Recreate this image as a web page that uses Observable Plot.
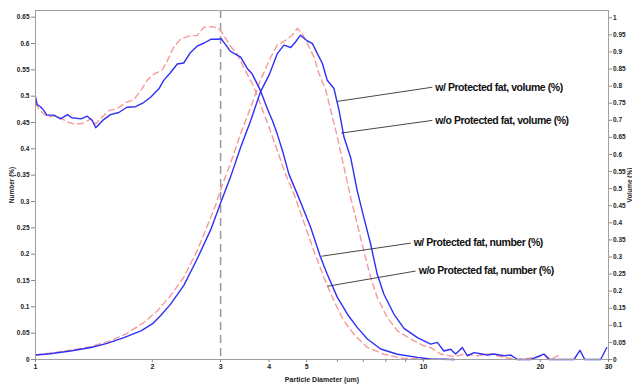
<!DOCTYPE html>
<html><head><meta charset="utf-8">
<script src="https://cdn.jsdelivr.net/npm/d3@7"></script>
<script src="https://cdn.jsdelivr.net/npm/@observablehq/plot@0.6"></script>
<style>
html,body{margin:0;padding:0;background:#fff;}
#chart svg{display:block;}
.anno text{letter-spacing:-0.45px;}
.xax text{letter-spacing:-0.1px;}
</style></head><body><div id="chart"></div>
<script>
// ---- data ----
const xTicks = [1,2,3,4,5,6,7,8,9,10,20,30];
const leftTicks = [0,0.05,0.1,0.15,0.2,0.25,0.3,0.35,0.4,0.45,0.5,0.55,0.6,0.65];
const rightTicks = [0,0.05,0.1,0.15,0.2,0.25,0.3,0.35,0.4,0.45,0.5,0.55,0.6,0.65,0.7,0.75,0.8,0.85,0.9,0.95,1];

// Number (%), left axis
const numberWithD = [1.00,1.01,1.03,1.05,1.07,1.115,1.16,1.21,1.24,1.31,1.36,1.40,1.43,1.49,1.56,1.64,1.72,1.81,1.90,1.98,2.08,2.14,2.23,2.32,2.41,2.51,2.61,2.72,2.83,2.94,3.01,3.09,3.18,3.38,3.52,3.62,3.80,3.96,4.08,4.20,4.33,4.50,4.73,4.92,5.12,5.43,5.65,6.00,6.37,6.75,7.17,7.76,8.57,9.65,10.4,12.0];
const numberWith = [0.499,0.484,0.480,0.473,0.464,0.464,0.457,0.465,0.459,0.457,0.462,0.454,0.440,0.454,0.465,0.469,0.479,0.480,0.488,0.498,0.514,0.530,0.545,0.561,0.563,0.583,0.595,0.601,0.608,0.608,0.609,0.598,0.585,0.574,0.552,0.542,0.511,0.476,0.454,0.428,0.397,0.352,0.314,0.283,0.251,0.194,0.162,0.118,0.086,0.061,0.039,0.020,0.010,0.004,0.001,0];
const numberWithoutD = [1.00,1.02,1.05,1.08,1.13,1.17,1.22,1.26,1.32,1.39,1.43,1.47,1.55,1.62,1.71,1.79,1.87,1.94,2.02,2.12,2.19,2.27,2.37,2.51,2.61,2.72,2.86,2.97,3.03,3.12,3.18,3.31,3.44,3.66,3.80,4.00,4.20,4.41,4.64,4.87,5.22,5.54,5.88,6.24,6.62,7.17,7.91,8.91,10.0,12.0];
const numberWithout = [0.486,0.476,0.466,0.461,0.463,0.457,0.450,0.447,0.448,0.457,0.447,0.457,0.473,0.476,0.488,0.493,0.511,0.530,0.542,0.549,0.568,0.593,0.609,0.615,0.615,0.631,0.632,0.628,0.620,0.605,0.595,0.580,0.555,0.517,0.485,0.441,0.397,0.352,0.314,0.270,0.206,0.156,0.111,0.073,0.048,0.023,0.010,0.002,0.001,0];

// Volume (%), right axis
const volumeWithD = [1.00,1.09,1.23,1.39,1.53,1.69,1.87,2.00,2.10,2.23,2.41,2.61,2.83,3.00,3.18,3.38,3.59,3.80,4.00,4.20,4.37,4.55,4.68,4.82,5.02,5.17,5.33,5.49,5.65,5.88,6.06,6.24,6.49,6.75,7.02,7.31,7.60,7.91,8.39,8.91,9.65,10.44,10.86,11.29,11.75,12.11,12.60,12.98,13.50,14.04,14.62,15.20,16.13,16.79,17.47,18.90,20.45,21.07,24.44,25.33,26.05,28.64,29.69];
const volumeWith = [0.013,0.017,0.025,0.035,0.047,0.064,0.084,0.104,0.128,0.162,0.216,0.294,0.380,0.458,0.533,0.621,0.700,0.783,0.832,0.895,0.920,0.913,0.929,0.949,0.932,0.925,0.895,0.866,0.817,0.793,0.729,0.651,0.592,0.494,0.416,0.338,0.250,0.191,0.133,0.091,0.064,0.045,0.050,0.025,0.030,0.016,0.035,0.011,0.020,0.017,0.013,0.016,0.011,0.013,0,0,0.016,0,0,0.027,0,0,0.035];
const volumeWithoutD = [1.00,1.23,1.39,1.56,1.72,1.90,2.06,2.23,2.41,2.61,2.77,2.91,3.00,3.18,3.38,3.59,3.80,4.04,4.20,4.41,4.59,4.73,4.87,5.02,5.22,5.38,5.60,5.77,6.00,6.24,6.49,6.75,7.02,7.31,7.60,8.07,8.57,9.27,10.03,10.44,11.08,11.99,12.72,13.77,14.91,16.13,17.47,19.67,20.45,21.28,22.15,22.59];
const volumeWithout = [0.013,0.027,0.038,0.055,0.076,0.108,0.142,0.187,0.240,0.318,0.390,0.450,0.497,0.573,0.661,0.739,0.817,0.885,0.920,0.934,0.949,0.969,0.954,0.925,0.885,0.837,0.788,0.729,0.651,0.563,0.475,0.397,0.318,0.240,0.182,0.123,0.084,0.060,0.040,0.035,0.016,0.008,0.016,0.011,0.016,0.006,0,0.006,0.016,0,0.011,0];

// Annotations (positions in diameter / left-axis units)
const annoLabels = ["w/ Protected fat, volume (%)","w/o Protected fat, volume (%)","w/ Protected fat, number (%)","w/o Protected fat, number (%)"];
const annoCurveD = [5.99, 6.14, 5.455, 5.65];
const annoCurveY = [0.490, 0.430, 0.196, 0.139];
const annoTextD = [10.54, 10.54, 9.27, 9.55];
const annoTextY = [0.517, 0.454, 0.221, 0.168];

// ---- scales relation ----
const K = 0.6489;      // 1 unit of Volume (%) expressed in Number (%) units
const Y_TOP = 0.6627;  // top of the frame in Number (%) units

const rows = (ds, vs, s) => ds.map((d, i) => ({d, v: vs[i] * s}));
const fmt = v => String(+v.toFixed(2));
const annoRows = annoLabels.map((label, i) => ({label, cx: annoCurveD[i], cy: annoCurveY[i], tx: annoTextD[i], ty: annoTextY[i]}));
const FONT = '"Liberation Sans Narrow", "Liberation Sans", Arial, sans-serif';
const RED = "#f59a98", BLUE = "#2f2ff5";

const chart = Plot.plot({
  width: 632, height: 385,
  marginLeft: 35, marginRight: 24, marginTop: 10, marginBottom: 26,
  style: {fontFamily: FONT, fontSize: "6.5px", fontWeight: "bold", color: "#222", background: "#fff"},
  x: {type: "log", domain: [1, 30]},
  y: {domain: [0, Y_TOP]},
  marks: [
    Plot.ruleX([3], {stroke: "#9a9a9a", strokeWidth: 1.5, strokeDasharray: "8,5"}),
    Plot.line(rows(volumeWithoutD, volumeWithout, K), {x: "d", y: "v", stroke: RED, strokeWidth: 1.4, strokeDasharray: "6,4"}),
    Plot.line(rows(numberWithoutD, numberWithout, 1), {x: "d", y: "v", stroke: RED, strokeWidth: 1.4, strokeDasharray: "6,4"}),
    Plot.line(rows(volumeWithD, volumeWith, K), {x: "d", y: "v", stroke: BLUE, strokeWidth: 1.4}),
    Plot.line(rows(numberWithD, numberWith, 1), {x: "d", y: "v", stroke: BLUE, strokeWidth: 1.4}),
    Plot.frame({stroke: "#a0a0a0"}),
    Plot.axisX(xTicks, {anchor: "bottom", tickSize: 3, tickPadding: 2, stroke: "#888", fill: "#222", tickFormat: d => String(d),
      label: "Particle Diameter (um)", labelAnchor: "center", labelArrow: "none", labelOffset: 22, className: "xax", fontSize: 7}),
    Plot.axisY(leftTicks, {anchor: "left", tickSize: 4, tickPadding: 2, stroke: "#888", fill: "#222", tickFormat: fmt,
      label: "Number (%)", labelAnchor: "center", labelArrow: "none", labelOffset: 26}),
    Plot.axisY(rightTicks.map(t => t * K), {anchor: "right", tickSize: 3, tickPadding: 1.5, stroke: "#888", fill: "#222", tickFormat: d => fmt(d / K),
      label: "Volume (%)", labelAnchor: "center", labelArrow: "none", labelOffset: 23.5}),
    Plot.link(annoRows, {x1: "cx", y1: "cy", x2: "tx", y2: "ty", stroke: "#333", strokeWidth: 0.9}),
    Plot.text(annoRows, {x: "tx", y: "ty", text: "label", textAnchor: "start", dx: 3, fontSize: 10.5, fontWeight: "bold", fill: "#111", className: "anno"})
  ]
});
document.getElementById("chart").appendChild(chart);
</script>
</body></html>
